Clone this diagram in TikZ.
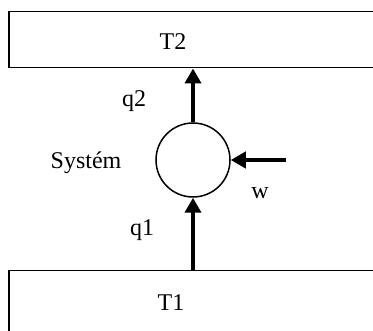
\documentclass[tikz,border=0pt]{standalone}
\usepackage{fontspec}
\setmainfont{Liberation Serif}
\usetikzlibrary{arrows.meta,positioning}
\tikzset{
tank/.style={draw,line width=1.5pt,anchor=north west,minimum width=400pt,minimum height=56pt,inner sep=0pt},
sysball/.style={draw,circle,line width=1.5pt,minimum size=74pt,inner sep=0pt},
flow/.style={-{Triangle[length=15pt,width=16pt]},line width=4pt},
txt/.style={anchor=base,inner sep=0pt,font=\fontsize{24}{28}\selectfont}
}
\begin{document}
\begin{tikzpicture}[x=1pt,y=-1pt]
\useasboundingbox (0,0) rectangle (373,331);
\node[tank] (t2) at (8,11) {};
\node[tank,minimum height=100pt] (t1) at (8,270) {};
\node[sysball] (sys) at (193,160) {};
\coordinate (wsrc) at (286,160);
\node[txt] (lt2) at (173,50) {T2};
\node[txt] (lt1) at (171,311) {T1};
\node[txt] (lq2) at (134,107) {q2};
\node[txt] (lq1) at (142,236) {q1};
\node[txt] (lsys) at (86,169) {Systém};
\node[txt] (lw) at (260,199) {w};
\draw[flow](sys.north)--(sys.north|-t2.south);
\draw[flow](sys.south|-t1.north)--(sys.south);
\draw[flow](wsrc)--(sys.east);
\end{tikzpicture}
\end{document}
